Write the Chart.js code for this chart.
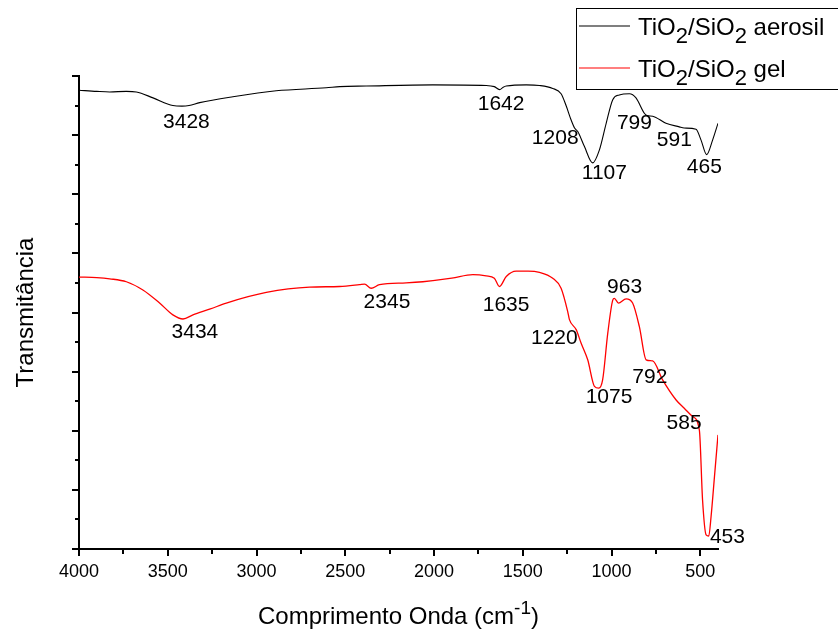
<!DOCTYPE html>
<html>
<head>
<meta charset="utf-8">
<script src="https://cdn.jsdelivr.net/npm/chart.js@4.4.1/dist/chart.umd.min.js"></script>
<style>
  html, body { margin: 0; padding: 0; background: #fff; }
</style>
</head>
<body>
<canvas id="ftirChart" width="838" height="637"></canvas>
<script>
// wavenumber (cm-1) and transmittance (arb. units)
const aerosilX = [4000, 3900, 3827, 3733, 3677, 3583, 3471, 3420, 3380, 3320, 3133, 2889, 2607, 2531, 2382, 2007,
  1706, 1660, 1631, 1610, 1593, 1480, 1406, 1331, 1284, 1256, 1228, 1208, 1190, 1153, 1106, 1068, 1030, 993,
  956, 899, 862, 815, 799, 768, 693, 618, 591, 524, 496, 464, 430, 400];
const aerosilY = [7.76, 7.74, 7.73, 7.74, 7.73, 7.63, 7.50, 7.49, 7.50, 7.55, 7.65, 7.75, 7.80, 7.82, 7.83, 7.85,
  7.84, 7.82, 7.77, 7.81, 7.83, 7.85, 7.84, 7.79, 7.70, 7.50, 7.26, 7.12, 7.06, 6.81, 6.53, 6.75, 7.20, 7.60,
  7.68, 7.70, 7.63, 7.37, 7.33, 7.32, 7.20, 7.14, 7.12, 7.10, 6.92, 6.67, 6.92, 7.20];

const gelX = [4000, 3900, 3827, 3733, 3640, 3546, 3471, 3414, 3358, 3260, 3170, 2945, 2701, 2532, 2420, 2391,
  2354, 2307, 2157, 2063, 1900, 1781, 1706, 1660, 1631, 1593, 1537, 1470, 1406, 1331, 1284, 1247, 1237, 1199,
  1171, 1134, 1096, 1072, 1050, 1021, 993, 984, 961, 918, 881, 843, 805, 768, 712, 636, 590, 543, 505, 487,
  467, 452, 439, 420, 400];
const gelY = [4.60, 4.59, 4.57, 4.52, 4.38, 4.16, 3.96, 3.89, 3.96, 4.06, 4.16, 4.34, 4.43, 4.44, 4.47, 4.48,
  4.41, 4.47, 4.50, 4.52, 4.58, 4.64, 4.62, 4.58, 4.44, 4.61, 4.70, 4.70, 4.68, 4.58, 4.41, 4.02, 3.88, 3.71,
  3.48, 3.20, 2.75, 2.72, 2.86, 3.65, 4.21, 4.24, 4.16, 4.23, 4.16, 3.76, 3.20, 3.18, 2.86, 2.52, 2.38, 2.24,
  2.01, 0.83, 0.24, 0.22, 0.55, 1.22, 1.93];

// peak labels: text, and where the label sits (x in cm-1, y in transmittance units)
const aerosilPeaks = ['3428', '1642', '1208', '1107', '799', '591', '465'];
const aerosilPeakX = [3395, 1622, 1317, 1040, 871, 646, 477];
const aerosilPeakY = [7.22, 7.53, 6.94, 6.36, 7.21, 6.92, 6.46];
const gelPeaks = ['3434', '2345', '1635', '1220', '1075', '963', '792', '585', '453'];
const gelPeakX = [3347, 2265, 1594, 1322, 1014, 926, 784, 591, 347];
const gelPeakY = [3.67, 4.18, 4.13, 3.57, 2.57, 4.42, 2.91, 2.13, 0.20];

const xMajor = [4000, 3500, 3000, 2500, 2000, 1500, 1000, 500];
const xMinor = [3750, 3250, 2750, 2250, 1750, 1250, 750];
const yMajor = [0, 1, 2, 3, 4, 5, 6, 7, 8];
const yMinor = [0.5, 1.5, 2.5, 3.5, 4.5, 5.5, 6.5, 7.5];

const FONT = "Arial, 'Liberation Sans', sans-serif";
const zip = (xs, ys) => xs.map((v, i) => ({ x: v, y: ys[i] }));

// draws text where "₂" becomes a lowered 2 and "⁻¹" a raised -1
function richText(ctx, text, x, y, size, align) {
  const parts = [];
  let buf = '';
  for (const ch of text) {
    if (ch === '₂') { if (buf) parts.push({ t: buf, m: 0 }); buf = ''; parts.push({ t: '2', m: 1 }); }
    else if (ch === '⁻') { if (buf) parts.push({ t: buf, m: 0 }); buf = ''; parts.push({ t: '-', m: -1 }); }
    else if (ch === '¹') { if (buf) parts.push({ t: buf, m: 0 }); buf = ''; parts.push({ t: '1', m: -1 }); }
    else buf += ch;
  }
  if (buf) parts.push({ t: buf, m: 0 });
  const fontFor = m => (m === 0 ? size : Math.round(size * (m > 0 ? 0.92 : 0.8))) + 'px ' + FONT;
  let total = 0;
  parts.forEach(p => { ctx.font = fontFor(p.m); p.w = ctx.measureText(p.t).width; total += p.w; });
  let cx = align === 'center' ? x - total / 2 : x;
  ctx.textAlign = 'left';
  ctx.textBaseline = 'alphabetic';
  parts.forEach(p => {
    ctx.font = fontFor(p.m);
    const dy = p.m > 0 ? size * 0.33 : p.m < 0 ? -size * 0.42 : 0;
    ctx.fillText(p.t, cx, y + dy);
    cx += p.w;
  });
}

const extras = {
  id: 'extras',
  afterDraw(chart) {
    const { ctx, chartArea, scales: { x, y } } = chart;
    ctx.save();

    // minor tick marks
    ctx.strokeStyle = '#000';
    ctx.lineWidth = 2;
    ctx.beginPath();
    xMinor.forEach(v => {
      const px = Math.round(x.getPixelForValue(v));
      ctx.moveTo(px, chartArea.bottom);
      ctx.lineTo(px, chartArea.bottom + 5);
    });
    yMinor.forEach(v => {
      const py = Math.round(y.getPixelForValue(v));
      ctx.moveTo(chartArea.left, py);
      ctx.lineTo(chartArea.left - 4, py);
    });
    ctx.stroke();

    // peak labels
    ctx.fillStyle = '#000';
    ctx.font = '21px ' + FONT;
    ctx.textAlign = 'center';
    ctx.textBaseline = 'middle';
    aerosilPeaks.forEach((t, i) => {
      ctx.fillText(t, x.getPixelForValue(aerosilPeakX[i]), y.getPixelForValue(aerosilPeakY[i]));
    });
    gelPeaks.forEach((t, i) => {
      ctx.fillText(t, x.getPixelForValue(gelPeakX[i]), y.getPixelForValue(gelPeakY[i]));
    });

    // legend box
    ctx.lineWidth = 1;
    ctx.strokeStyle = '#000';
    ctx.strokeRect(576.5, 8.5, 300, 81);
    chart.data.datasets.forEach((ds, i) => {
      const ly = i === 0 ? 26 : 68;
      ctx.strokeStyle = ds.borderColor;
      ctx.lineWidth = 1.2;
      ctx.beginPath();
      ctx.moveTo(579, ly);
      ctx.lineTo(630, ly);
      ctx.stroke();
      ctx.fillStyle = '#000';
      richText(ctx, ds.label, 638, ly + 9, 24, 'left');
    });

    // x axis title
    ctx.fillStyle = '#000';
    richText(ctx, 'Comprimento Onda (cm⁻¹)', (chartArea.left + chartArea.right) / 2, 624, 24, 'center');

    ctx.restore();
  }
};

const axisGrid = { display: true, drawOnChartArea: false, drawTicks: true, tickLength: 7, lineWidth: 2, color: '#000' };
const axisBorder = { display: true, color: '#000', width: 2 };

new Chart(document.getElementById('ftirChart').getContext('2d'), {
  type: 'line',
  data: {
    datasets: [{
      label: 'TiO₂/SiO₂ aerosil',
      data: zip(aerosilX, aerosilY),
      borderColor: '#000000',
      borderWidth: 1.1,
      pointRadius: 0,
      cubicInterpolationMode: 'monotone'
    }, {
      label: 'TiO₂/SiO₂ gel',
      data: zip(gelX, gelY),
      borderColor: '#ff0000',
      borderWidth: 1.3,
      pointRadius: 0,
      cubicInterpolationMode: 'monotone'
    }]
  },
  options: {
    responsive: false,
    animation: false,
    layout: { padding: { top: 76, right: 120, left: 0, bottom: 0 } },
    plugins: {
      legend: { display: false },
      tooltip: { enabled: false }
    },
    scales: {
      x: {
        type: 'linear',
        min: 400,
        max: 4000,
        reverse: true,
        afterFit: s => { s.height = 88; },
        afterBuildTicks: s => { s.ticks = xMajor.map(v => ({ value: v })); },
        ticks: {
          color: '#000',
          font: { family: FONT, size: 18 },
          padding: 5,
          maxRotation: 0,
          autoSkip: false,
          callback: v => String(v)
        },
        grid: axisGrid,
        border: axisBorder
      },
      y: {
        min: 0,
        max: 8,
        afterFit: s => { s.width = 79; },
        afterBuildTicks: s => { s.ticks = yMajor.map(v => ({ value: v })); },
        ticks: { display: false },
        grid: axisGrid,
        border: axisBorder,
        title: {
          display: true,
          text: 'Transmitância',
          color: '#000',
          font: { family: FONT, size: 24 },
          padding: { top: 12, bottom: 0 }
        }
      }
    }
  },
  plugins: [extras]
});
</script>
</body>
</html>
